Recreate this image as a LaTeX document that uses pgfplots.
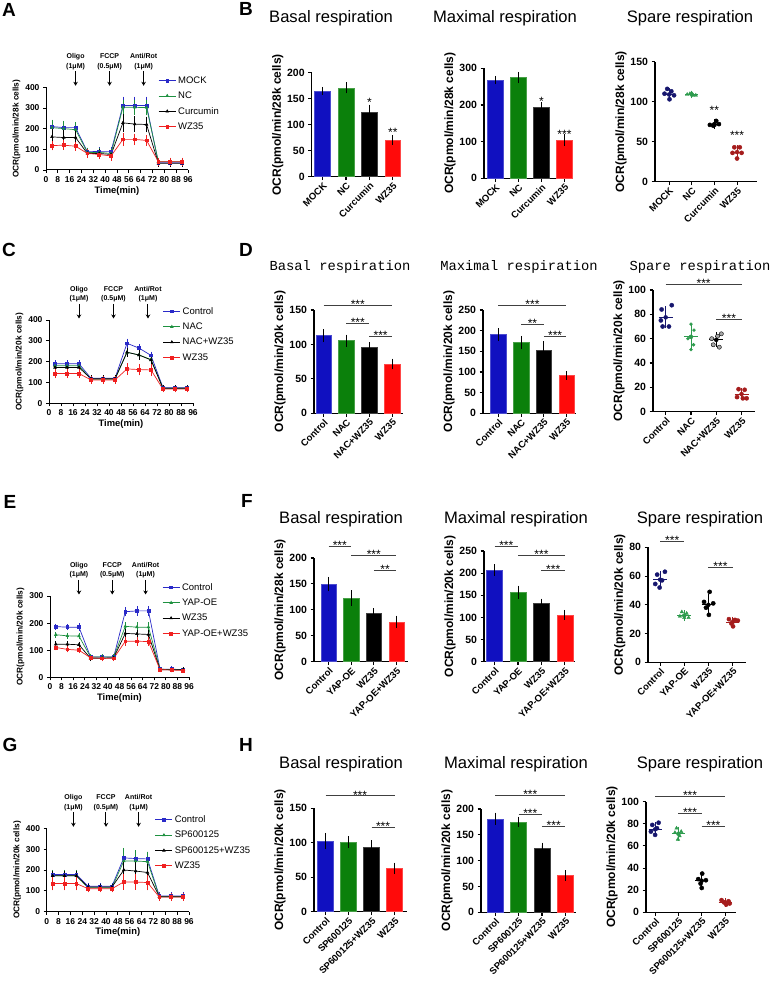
\documentclass[border=0pt]{standalone}
\usepackage{fontspec}
\setmainfont{Liberation Sans}
\newfontfamily\monofont{Liberation Mono}
\usepackage{pgfplots}
\usepackage{pgfplotstable}
\pgfplotsset{compat=1.18}
\usetikzlibrary{calc,arrows.meta}

\definecolor{lblue}{HTML}{2A2AC8}
\definecolor{lgreen}{HTML}{1E9140}
\definecolor{lred}{HTML}{F02020}
\definecolor{bblue}{HTML}{1010C0}
\definecolor{bgreen}{HTML}{0B800B}
\definecolor{bred}{HTML}{FF0A0A}
\definecolor{dnavy}{HTML}{16166E}
\definecolor{dgreen}{HTML}{2E9B4E}
\definecolor{dred}{HTML}{A51C1C}

\pgfplotsset{
  base/.style={scale only axis, axis x line*=bottom, axis y line*=left,
    axis line style={line width=1.2pt}, tick align=outside, major tick length=3.5pt,
    tick style={line width=1.1pt, black}, clip=false, ymin=0,
    /pgf/number format/assume math mode=true},
  lineax/.style={base, xmin=0, xmax=96, xtick={0,8,...,96},
    axis line style={line width=1pt}, tick style={line width=0.9pt}, major tick length=3pt,
    ticklabel style={font=\fontsize{8.5}{9}\selectfont\bfseries},
    xlabel={Time(min)}, xlabel style={font=\fontsize{9.4}{10}\selectfont\bfseries, yshift=3pt},
    ylabel style={font=\fontsize{8.3}{9}\selectfont\bfseries, yshift=-2pt},
    legend cell align=left,
    legend style={draw=none, fill=none, anchor=north west, inner sep=0pt, row sep=3.2pt,
      font=\fontsize{9.5}{11}\selectfont}},
  barax/.style={base, xtick={0,1,2,3},
    yticklabel style={font=\fontsize{10.5}{11}\selectfont\bfseries},
    xticklabel style={rotate=45, anchor=north east, inner sep=1pt, font=\fontsize{9.5}{10}\selectfont\bfseries},
    ylabel style={font=\fontsize{12}{13}\selectfont\bfseries, yshift=-3pt}},
  ser/.style 2 args={color=#1, mark=#2, mark size=1.4pt, line width=0.7pt,
    error bars/.cd, y dir=both, y explicit, error bar style={line width=0.6pt},
    error mark options={line width=0.6pt, mark size=1.6pt}},
  bar/.style={ybar, bar width=0.68, bar shift=0pt, fill=#1, draw=#1!75!white, line width=0.5pt,
    error bars/.cd, y dir=both, y explicit, error bar style={line width=0.9pt, black},
    error mark options={line width=0.9pt, black, mark size=3pt}},
  dot/.style={only marks, mark=*, mark size=2.1pt, color=#1, mark options={fill=#1, draw=#1}},
  tri/.style={only marks, mark=triangle*, mark size=2pt, color=#1, mark options={fill=#1, draw=#1}},
  mline/.style={color=#1, line width=1pt, forget plot},
  sd/.style={color=#1, only marks, mark=none, forget plot,
    error bars/.cd, y dir=both, y explicit, error bar style={line width=0.9pt},
    error mark options={line width=0.9pt, mark size=2.6pt}},
}
\tikzset{
  sigline/.style={line width=0.8pt, black!75},
  sigtxt/.style={font=\fontsize{12}{12}\selectfont, inner sep=0pt},
  ttl/.style={font=\fontsize{16.6}{18}\selectfont},
  mttl/.style={font=\monofont\fontsize{13.8}{16}\selectfont},
  lett/.style={font=\fontsize{19}{20}\selectfont\bfseries},
}
\newcommand{\sigl}[4]{\draw[sigline] (axis cs:#1,#3) -- (axis cs:#2,#3);
  \node[sigtxt, yshift=1pt] at ($(axis cs:#1,#3)!0.5!(axis cs:#2,#3)$) {#4};}
\newcommand{\stars}[3]{\node[sigtxt, yshift=-2pt] at (axis cs:#1,#2) {#3};}
\newcommand{\inj}[3]{\draw[-{Stealth[length=4pt,width=4.5pt]}, line width=1pt]
  ([yshift=16pt]axis cs:#1,#3) -- ([yshift=1.5pt]axis cs:#1,#3);
  \node[anchor=south, align=center, inner sep=0pt, font=\fontsize{7}{9.5}\selectfont\bfseries]
  at ([yshift=17.5pt]axis cs:#1,#3) {#2};}

\pgfplotstableread{
t a ae b be c ce d de
4 210 25 205 30 160 30 118 15
12 205 25 200 30 157 30 120 15
20 205 20 195 28 157 30 115 15
28 88 12 85 15 80 15 80 12
36 90 12 85 15 80 15 75 15
44 90 12 80 15 75 15 68 15
52 312 35 303 30 228 35 148 25
60 312 35 303 30 222 30 148 20
68 312 35 302 30 220 30 143 18
76 35 10 40 10 32 10 40 12
84 35 10 40 10 32 10 40 12
92 35 10 40 10 32 10 40 12
}\tabA
\pgfplotstableread{
t a ae b be c ce d de
4 190 8 180 10 172 10 143 15
12 190 8 180 10 172 10 143 15
20 190 8 180 10 172 10 143 15
28 120 8 115 8 118 8 112 12
36 120 8 115 8 118 8 112 12
44 120 8 115 8 118 8 112 12
52 288 15 245 15 245 15 165 20
60 265 12 232 15 232 15 162 20
68 230 10 210 10 208 10 160 20
76 75 6 72 6 72 6 68 8
84 75 6 72 6 72 6 68 8
92 75 6 72 6 72 6 68 8
}\tabC
\pgfplotstableread{
t a ae b be c ce d de
4 187 5 157 5 122 5 110 5
12 185 5 153 6 122 5 103 5
20 185 8 152 6 120 6 100 5
28 75 4 75 4 70 4 72 4
36 75 4 75 4 70 4 70 4
44 75 4 75 4 72 4 70 4
52 242 10 188 10 162 10 133 10
60 245 12 185 12 160 10 133 10
68 245 12 185 12 158 10 132 10
76 30 3 30 3 28 3 28 3
84 30 4 28 3 28 3 27 3
92 28 4 28 3 28 3 25 3
}\tabE
\pgfplotstableread{
t a ae b be c ce d de
4 178 15 172 20 172 15 135 25
12 178 15 172 20 172 15 135 25
20 178 15 172 20 172 15 135 25
28 122 8 115 10 118 8 110 10
36 122 8 115 10 118 8 110 10
44 122 8 115 10 118 8 110 10
52 258 35 243 55 200 40 143 30
60 255 30 243 45 195 38 142 30
68 253 28 240 40 188 35 140 30
76 75 10 72 10 72 10 70 10
84 75 10 72 10 72 10 70 10
92 75 10 72 10 72 10 70 10
}\tabG

\begin{document}
\begin{tikzpicture}
\path[use as bounding box] (0pt,0pt) rectangle (771pt,992pt);

% ---------------- row 1 ----------------
\begin{axis}[lineax, at={(46pt,822pt)}, width=142pt, height=82.7pt, ymax=400, ytick={0,100,...,400},
  ylabel={OCR(pmol/min/28k cells)}, legend style={at={(0.79,1)}, yshift=13pt}]
\addplot[ser={lblue}{square*}] table[x=t,y=a,y error=ae] {\tabA};
\addplot[ser={lgreen}{triangle*}] table[x=t,y=b,y error=be] {\tabA};
\addplot[ser={black}{triangle*}] table[x=t,y=c,y error=ce] {\tabA};
\addplot[ser={lred}{square*}] table[x=t,y=d,y error=de] {\tabA};
\legend{MOCK,NC,Curcumin,WZ35}
\inj{20}{Oligo\\(1μM)}{400}
\inj{43}{FCCP\\(0.5μM)}{400}
\inj{66}{Anti/Rot\\(1μM)}{400}
\end{axis}

\begin{axis}[barax, at={(311.7pt,815.3pt)}, width=87.6pt, height=104pt, xmin=-0.47, xmax=3.28,
  ymax=200, ytick={0,50,...,200}, xticklabels={MOCK,NC,Curcumin,WZ35}, ylabel={OCR(pmol/min/28k cells)}]
\addplot[bar=bblue] coordinates {(0,165) +- (0,2)};
\addplot[bar=bgreen] coordinates {(1,171) +- (0,5)};
\addplot[bar=black] coordinates {(2,124) +- (0,9)};
\addplot[bar=bred] coordinates {(3,70.5) +- (0,3)};
\stars{2}{146}{*}
\stars{3}{90}{**}
\end{axis}

\begin{axis}[barax, at={(484pt,813.7pt)}, width=88pt, height=110pt, xmin=-0.5, xmax=3.33,
  ymax=300, ytick={0,100,200,300}, xticklabels={MOCK,NC,Curcumin,WZ35}, ylabel={OCR(pmol/min/28k cells)}]
\addplot[bar=bblue] coordinates {(0,268) +- (0,3)};
\addplot[bar=bgreen] coordinates {(1,275) +- (0,7)};
\addplot[bar=black] coordinates {(2,195) +- (0,4)};
\addplot[bar=bred] coordinates {(3,104.5) +- (0,7)};
\stars{2}{215}{*}
\stars{3}{124}{***}
\end{axis}

\begin{axis}[barax, at={(655pt,810.3pt)}, width=102pt, height=120pt, xmin=-0.62, xmax=3.88,
  ymax=150, ytick={0,50,100,150}, xticklabels={MOCK,NC,Curcumin,WZ35}, ylabel={OCR(pmol/min/28k cells)}]
\addplot[dot=dnavy] coordinates {(-0.2,110) (-0.08,116) (0.1,113) (0.22,108) (0.02,103)};
\addplot[mline=dnavy] coordinates {(-0.28,109) (0.28,109)};
\addplot[sd=dnavy] coordinates {(0,109) +- (0,5)};
\addplot[tri=dgreen] coordinates {(0.8,109) (0.92,110) (1.05,108) (1.18,108) (1.0,110.5)};
\addplot[mline=dgreen] coordinates {(0.72,109) (1.28,109)};
\addplot[sd=dgreen] coordinates {(1,109) +- (0,1.5)};
\addplot[dot=black] coordinates {(1.8,71) (1.95,70) (2.08,76) (2.2,72) (2.0,71)};
\addplot[mline=black] coordinates {(1.72,72) (2.28,72)};
\addplot[sd=black] coordinates {(2,72) +- (0,2.5)};
\addplot[dot=dred] coordinates {(2.88,43) (3.12,43) (2.8,36) (3.2,36) (3.0,29)};
\addplot[mline=dred] coordinates {(2.72,37) (3.28,37)};
\addplot[sd=dred] coordinates {(3,37) +- (0,5.5)};
\stars{2}{92}{**}
\stars{3}{61}{***}
\end{axis}

% ---------------- row 2 ----------------
\begin{axis}[lineax, at={(49pt,588.7pt)}, width=144pt, height=83.3pt, ymax=400, ytick={0,100,...,400},
  ylabel={OCR(pmol/min/20k cells)}, legend style={at={(0.79,1)}, yshift=15pt}]
\addplot[ser={lblue}{square*}] table[x=t,y=a,y error=ae] {\tabC};
\addplot[ser={lgreen}{triangle*}] table[x=t,y=b,y error=be] {\tabC};
\addplot[ser={black}{triangle*}] table[x=t,y=c,y error=ce] {\tabC};
\addplot[ser={lred}{square*}] table[x=t,y=d,y error=de] {\tabC};
\legend{Control,NAC,NAC+WZ35,WZ35}
\inj{20}{Oligo\\(1μM)}{400}
\inj{43}{FCCP\\(0.5μM)}{400}
\inj{66}{Anti/Rot\\(1μM)}{400}
\end{axis}

\begin{axis}[barax, at={(314pt,578.7pt)}, width=89pt, height=103.3pt, xmin=-0.42, xmax=3.48,
  ymax=150, ytick={0,50,100,150}, xticklabels={Control,NAC,NAC+WZ35,WZ35}, ylabel={OCR(pmol/min/20k cells)}]
\addplot[bar=bblue] coordinates {(0,112.7) +- (0,5)};
\addplot[bar=bgreen] coordinates {(1,105.5) +- (0,4.5)};
\addplot[bar=black] coordinates {(2,95.8) +- (0,3)};
\addplot[bar=bred] coordinates {(3,71.6) +- (0,3.5)};
\sigl{0}{3}{156}{***}
\sigl{1}{2}{130.6}{***}
\sigl{2}{3}{111}{***}
\end{axis}

\begin{axis}[barax, at={(483pt,578.7pt)}, width=93pt, height=103.3pt, xmin=-0.68, xmax=3.42,
  ymax=250, ytick={0,50,...,250}, xticklabels={Control,NAC,NAC+WZ35,WZ35}, ylabel={OCR(pmol/min/20k cells)}]
\addplot[bar=bblue] coordinates {(0,191) +- (0,8)};
\addplot[bar=bgreen] coordinates {(1,171) +- (0,9)};
\addplot[bar=black] coordinates {(2,153) +- (0,14)};
\addplot[bar=bred] coordinates {(3,91) +- (0,3)};
\sigl{0}{3}{260.5}{***}
\sigl{1}{2}{216}{**}
\sigl{2}{3}{185.5}{***}
\end{axis}

\begin{axis}[barax, at={(653pt,580.3pt)}, width=102pt, height=121.7pt, xmin=-0.5, xmax=3.53,
  ymax=100, ytick={0,20,...,100}, xticklabels={Control,NAC,NAC+WZ35,WZ35}, ylabel={OCR(pmol/min/20k cells)}]
\addplot[dot=dnavy] coordinates {(0.24,87.5) (-0.16,84) (-0.19,75) (-0.12,70) (0.13,70)};
\addplot[mline=dnavy] coordinates {(-0.28,77.5) (0.28,77.5)};
\addplot[sd=dnavy] coordinates {(0,77.5) +- (0,7)};
\addplot[only marks, mark=*, mark size=1.5pt, color=dgreen] coordinates {(1.0,72) (1.12,67) (0.88,60) (1.1,55) (1.0,51)};
\addplot[mline=dgreen] coordinates {(0.72,61.5) (1.28,61.5)};
\addplot[sd=dgreen] coordinates {(1,61.5) +- (0,7.5)};
\addplot[only marks, mark=*, mark size=2.1pt, mark options={fill=gray!70, draw=black}] coordinates {(2.2,64) (2.05,62) (1.82,60) (1.88,55) (2.12,53)};
\addplot[mline=black] coordinates {(1.72,59) (2.28,59)};
\addplot[sd=black] coordinates {(2,59) +- (0,4)};
\addplot[dot=dred] coordinates {(2.88,18.5) (3.12,18) (2.82,12) (3.05,11) (3.2,11)};
\addplot[mline=dred] coordinates {(2.72,14.5) (3.28,14.5)};
\addplot[sd=dred] coordinates {(3,14.5) +- (0,3)};
\sigl{0}{3}{105}{***}
\sigl{2}{3}{76}{***}
\end{axis}

% ---------------- row 3 ----------------
\begin{axis}[lineax, at={(50pt,314.7pt)}, width=139pt, height=81.3pt, ymax=300, ytick={0,100,...,300},
  ylabel={OCR(pmol/min/20k cells)}, legend style={at={(0.806,1)}, yshift=15pt}]
\addplot[ser={lblue}{square*}] table[x=t,y=a,y error=ae] {\tabE};
\addplot[ser={lgreen}{triangle*}] table[x=t,y=b,y error=be] {\tabE};
\addplot[ser={black}{triangle*}] table[x=t,y=c,y error=ce] {\tabE};
\addplot[ser={lred}{square*}] table[x=t,y=d,y error=de] {\tabE};
\legend{Control,YAP-OE,WZ35,YAP-OE+WZ35}
\inj{20}{Oligo\\(1μM)}{300}
\inj{43}{FCCP\\(0.5μM)}{300}
\inj{66}{Anti/Rot\\(1μM)}{300}
\end{axis}

\begin{axis}[barax, at={(314pt,330.3pt)}, width=94pt, height=103.7pt, xmin=-0.64, xmax=3.51,
  ymax=200, ytick={0,50,...,200}, xticklabels={Control,YAP-OE,WZ35,YAP-OE+WZ35}, ylabel={OCR(pmol/min/28k cells)}]
\addplot[bar=bblue] coordinates {(0,150) +- (0,8)};
\addplot[bar=bgreen] coordinates {(1,123) +- (0,9)};
\addplot[bar=black] coordinates {(2,93.5) +- (0,3.5)};
\addplot[bar=bred] coordinates {(3,77) +- (0,6)};
\sigl{0}{1}{223}{***}
\sigl{1}{3}{204.4}{***}
\sigl{2}{3}{176.8}{**}
\end{axis}

\begin{axis}[barax, at={(484pt,330.3pt)}, width=91pt, height=110.7pt, xmin=-0.45, xmax=3.43,
  ymax=250, ytick={0,50,...,250}, xticklabels={Control,YAP-OE,WZ35,YAP-OE+WZ35}, ylabel={OCR(pmol/min/20k cells)}]
\addplot[bar=bblue] coordinates {(0,207) +- (0,6)};
\addplot[bar=bgreen] coordinates {(1,157) +- (0,8)};
\addplot[bar=black] coordinates {(2,132) +- (0,3.5)};
\addplot[bar=bred] coordinates {(3,106) +- (0,4)};
\sigl{0}{1}{261}{***}
\sigl{1}{3}{241}{***}
\sigl{2}{3}{207}{***}
\end{axis}

\begin{axis}[barax, at={(648pt,329.7pt)}, width=97.6pt, height=115pt, xmin=-0.5, xmax=3.54,
  ymax=80, ytick={0,20,...,80}, xticklabels={Control,YAP-OE,WZ35,YAP-OE+WZ35}, ylabel={OCR(pmol/min/20k cells)}]
\addplot[dot=dnavy] coordinates {(0.2,63) (-0.12,61) (0.08,57) (-0.2,54.5) (-0.02,52)};
\addplot[mline=dnavy] coordinates {(-0.28,57.5) (0.28,57.5)};
\addplot[sd=dnavy] coordinates {(0,57.5) +- (0,4.3)};
\addplot[tri=dgreen] coordinates {(0.9,35) (1.1,34) (0.82,32) (1.18,31) (1.0,31)};
\addplot[mline=dgreen] coordinates {(0.72,32.5) (1.28,32.5)};
\addplot[sd=dgreen] coordinates {(1,32.5) +- (0,2)};
\addplot[dot=black] coordinates {(2.05,49) (1.82,42) (2.2,41) (1.9,38) (2.02,33)};
\addplot[mline=black] coordinates {(1.72,40) (2.28,40)};
\addplot[sd=black] coordinates {(2,40) +- (0,6)};
\addplot[dot=dred] coordinates {(2.85,30) (3.1,29.5) (3.22,29) (2.95,27) (3.02,25)};
\addplot[mline=dred] coordinates {(2.72,28) (3.28,28)};
\addplot[sd=dred] coordinates {(3,28) +- (0,2)};
\sigl{0}{1}{84}{***}
\sigl{2}{3}{66}{***}
\end{axis}

% ---------------- row 4 ----------------
\begin{axis}[lineax, at={(46.7pt,80.3pt)}, width=142.3pt, height=83.4pt, ymax=400, ytick={0,100,...,400},
  ylabel={OCR(pmol/min/20k cells)}, legend style={at={(0.76,1)}, yshift=15pt}]
\addplot[ser={lblue}{square*}] table[x=t,y=a,y error=ae] {\tabG};
\addplot[ser={lgreen}{triangle*}] table[x=t,y=b,y error=be] {\tabG};
\addplot[ser={black}{triangle*}] table[x=t,y=c,y error=ce] {\tabG};
\addplot[ser={lred}{square*}] table[x=t,y=d,y error=de] {\tabG};
\legend{Control,SP600125,SP600125+WZ35,WZ35}
\inj{18}{Oligo\\(1μM)}{400}
\inj{40}{FCCP\\(0.5μM)}{400}
\inj{62}{Anti/Rot\\(1μM)}{400}
\end{axis}

\begin{axis}[barax, at={(314pt,80.3pt)}, width=93pt, height=103.4pt, xmin=-0.5, xmax=3.54,
  ymax=150, ytick={0,50,100,150}, xticklabels={Control,SP600125,SP600125+WZ35,WZ35}, ylabel={OCR(pmol/min/20k cells)}]
\addplot[bar=bblue] coordinates {(0,102.6) +- (0,7.5)};
\addplot[bar=bgreen] coordinates {(1,100.6) +- (0,4.5)};
\addplot[bar=black] coordinates {(2,94) +- (0,5.5)};
\addplot[bar=bred] coordinates {(3,63) +- (0,4)};
\sigl{0}{3}{168}{***}
\sigl{2}{3}{123}{***}
\end{axis}

\begin{axis}[barax, at={(481pt,79.7pt)}, width=95pt, height=103.3pt, xmin=-0.6, xmax=3.45,
  ymax=200, ytick={0,50,...,200}, xticklabels={Control,SP600125,SP600125+WZ35,WZ35}, ylabel={OCR(pmol/min/20k cells)}]
\addplot[bar=bblue] coordinates {(0,181) +- (0,6)};
\addplot[bar=bgreen] coordinates {(1,175) +- (0,4.5)};
\addplot[bar=black] coordinates {(2,124) +- (0,5)};
\addplot[bar=bred] coordinates {(3,71) +- (0,4.5)};
\sigl{0}{3}{226}{***}
\sigl{1}{2}{190}{***}
\sigl{2}{3}{166}{***}
\end{axis}

\begin{axis}[barax, at={(646pt,79.7pt)}, width=90pt, height=110.6pt, xmin=-0.39, xmax=3.47,
  ymax=100, ytick={0,20,...,100}, xticklabels={Control,SP600125,SP600125+WZ35,WZ35}, ylabel={OCR(pmol/min/20k cells)}]
\addplot[dot=dnavy] coordinates {(0.15,81) (-0.12,79) (0.08,76) (-0.18,73) (0.0,70)};
\addplot[mline=dnavy] coordinates {(-0.28,75) (0.28,75)};
\addplot[sd=dnavy] coordinates {(0,75) +- (0,4)};
\addplot[tri=dgreen] coordinates {(0.92,76) (1.12,73) (0.85,72) (1.05,69) (0.98,66)};
\addplot[mline=dgreen] coordinates {(0.72,71) (1.28,71)};
\addplot[sd=dgreen] coordinates {(1,71) +- (0,4)};
\addplot[dot=black] coordinates {(2.02,35) (1.85,30) (2.18,29) (1.95,26) (2.0,22)};
\addplot[mline=black] coordinates {(1.72,28.5) (2.28,28.5)};
\addplot[sd=black] coordinates {(2,28.5) +- (0,5)};
\addplot[dot=dred] coordinates {(2.85,11) (3.15,10) (2.95,9) (3.2,8) (3.05,7)};
\addplot[mline=dred] coordinates {(2.72,9) (3.28,9)};
\addplot[sd=dred] coordinates {(3,9) +- (0,1.5)};
\sigl{0}{3}{105}{***}
\sigl{1}{2}{89.5}{***}
\sigl{2}{3}{77.4}{***}
\end{axis}

% ---------------- titles and panel letters ----------------
\node[ttl] at (331pt,974pt) {Basal respiration};
\node[ttl] at (505pt,974pt) {Maximal respiration};
\node[ttl] at (690pt,974pt) {Spare respiration};
\node[mttl] at (340pt,725pt) {Basal respiration};
\node[mttl] at (519pt,725pt) {Maximal respiration};
\node[mttl] at (700pt,725pt) {Spare respiration};
\node[ttl] at (341pt,473pt) {Basal respiration};
\node[ttl] at (516pt,473pt) {Maximal respiration};
\node[ttl] at (700pt,473pt) {Spare respiration};
\node[ttl] at (341pt,228pt) {Basal respiration};
\node[ttl] at (516pt,228pt) {Maximal respiration};
\node[ttl] at (700pt,228pt) {Spare respiration};
\node[lett] at (9pt,982pt) {A};
\node[lett] at (246pt,983pt) {B};
\node[lett] at (9pt,742pt) {C};
\node[lett] at (246pt,742pt) {D};
\node[lett] at (10pt,490pt) {E};
\node[lett] at (247pt,491pt) {F};
\node[lett] at (10pt,247pt) {G};
\node[lett] at (246pt,247pt) {H};
\end{tikzpicture}
\end{document}
